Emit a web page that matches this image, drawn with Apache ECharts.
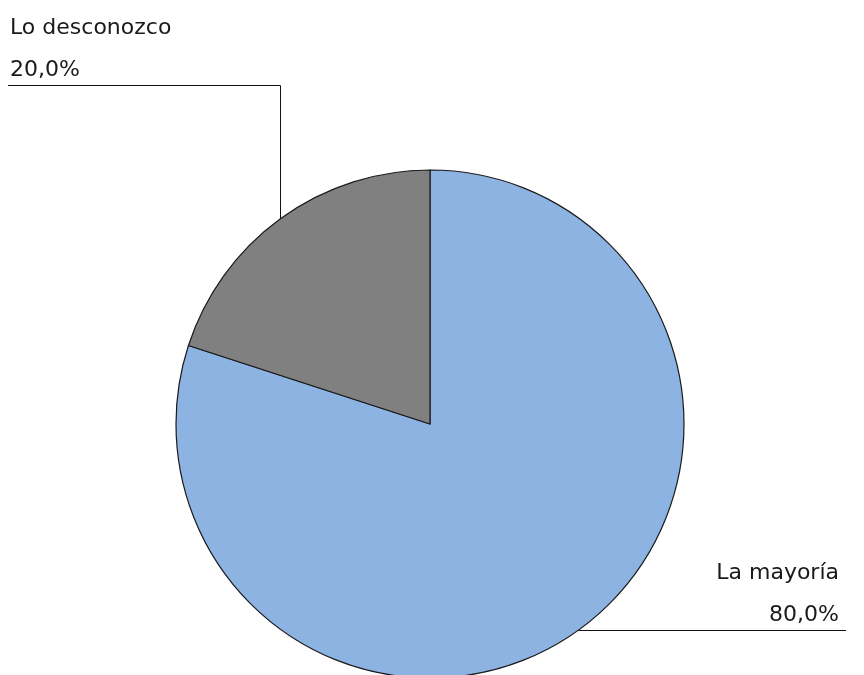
<!DOCTYPE html>
<html>
<head>
<meta charset="utf-8">
<script src="https://cdn.jsdelivr.net/npm/echarts@6/dist/echarts.min.js"></script>
<style>
html, body { margin: 0; padding: 0; background: #ffffff; }
#chart { width: 864px; height: 675px; }
</style>
</head>
<body>
<div id="chart"></div>
<script>
// Data
const categories = ['La mayoría', 'Lo desconozco'];
const values = [80, 20];
const colors = ['#8db3e2', '#808080'];

const chart = echarts.init(document.getElementById('chart'), null, { renderer: 'canvas' });

const W = 864;
const LINE_H = 42;

const option = {
  animation: false,
  backgroundColor: '#ffffff',
  series: [{
    type: 'pie',
    center: [430, 424],
    radius: 254,
    startAngle: 90,
    clockwise: true,
    avoidLabelOverlap: false,
    data: categories.map((c, i) => ({ name: c, value: values[i], itemStyle: { color: colors[i] } })),
    itemStyle: { borderColor: '#1a1a1a', borderWidth: 1.2 },
    emphasis: { disabled: true },
    label: {
      show: true,
      position: 'outside',
      formatter: p => '{n|' + p.name + '}\n{p|' + p.percent.toFixed(1).replace('.', ',') + '%}',
      rich: {
        n: { fontFamily: 'DejaVu Sans', fontSize: 22, color: '#1a1a1a', lineHeight: LINE_H },
        p: { fontFamily: 'DejaVu Sans', fontSize: 22, color: '#1a1a1a', lineHeight: LINE_H }
      }
    },
    labelLine: {
      show: true,
      length: 10,
      length2: 10,
      lineStyle: { color: '#111111', width: 1 }
    },
    labelLayout: function (params) {
      const p0 = params.labelLinePoints ? params.labelLinePoints[0] : [0, 0];
      const vx = Math.round(p0[0]) - 0.5;
      if (params.dataIndex === 0) {
        const x = W - 25, y = 552;
        const lineY = y + 78 + 0.5;
        return {
          x: x, y: y, align: 'right', verticalAlign: 'top',
          labelLinePoints: [p0, [vx, lineY], [x + 7, lineY]]
        };
      } else {
        const x = 10, y = 7;
        const lineY = y + 78 + 0.5;
        return {
          x: x, y: y, align: 'left', verticalAlign: 'top',
          labelLinePoints: [[vx, p0[1]], [vx, lineY], [x - 2, lineY]]
        };
      }
    }
  }]
};
chart.setOption(option);
</script>
</body>
</html>
